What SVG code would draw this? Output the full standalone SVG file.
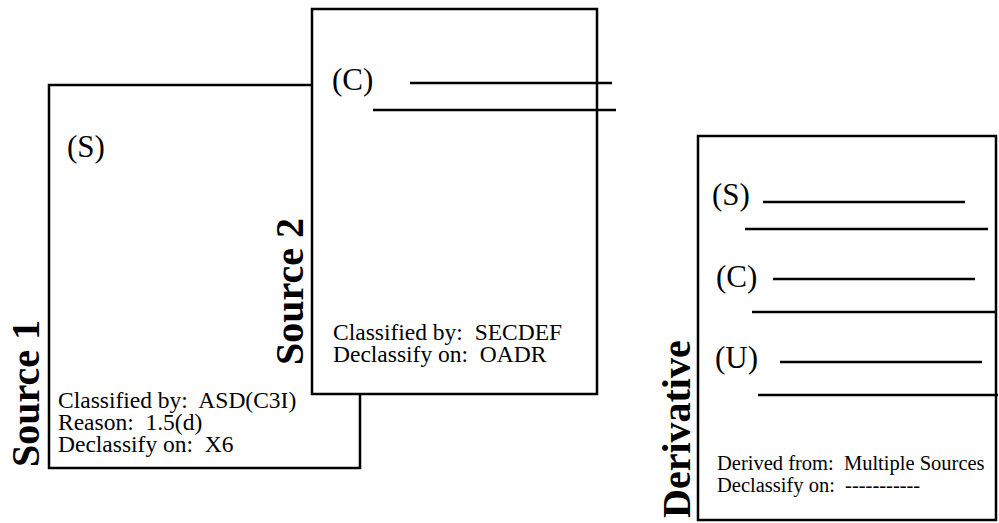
<svg xmlns="http://www.w3.org/2000/svg" width="999" height="523" viewBox="0 0 999 523" xml:space="preserve">
<style>
.box{fill:#fff;stroke:#000;stroke-width:2.5}
.rule{stroke:#000;stroke-width:2.5;fill:none}
.mark{font-family:"Liberation Serif","Times New Roman",serif;font-size:31px;fill:#000}
.body{font-family:"Liberation Serif","Times New Roman",serif;font-size:23.5px;fill:#000;white-space:pre}
.dbody{font-family:"Liberation Serif","Times New Roman",serif;font-size:20.5px;fill:#000;white-space:pre}
.lbl{font-family:"Liberation Serif","Times New Roman",serif;font-size:40px;font-weight:bold;fill:#000}
</style>
<rect width="999" height="523" fill="#fff"/>
<g id="source1">
<rect class="box" x="49" y="85" width="311" height="383"/>
<text class="mark" x="67" y="157">(S)</text>
<text class="body" x="58" y="408">Classified by:  ASD(C3I)</text>
<text class="body" x="58" y="430">Reason:  1.5(d)</text>
<text class="body" x="58" y="452">Declassify on:  X6</text>
<text class="lbl" transform="translate(39,467) rotate(-90)">Source 1</text>
</g>
<g id="source2">
<rect class="box" x="312" y="9" width="285" height="385"/>
<text class="mark" x="332" y="90">(C)</text>
<line class="rule" x1="410" y1="83" x2="612" y2="83"/>
<line class="rule" x1="373" y1="110" x2="616" y2="110"/>
<text class="body" x="333" y="340">Classified by:  SECDEF</text>
<text class="body" x="333" y="362">Declassify on:  OADR</text>
<text class="lbl" transform="translate(303,365) rotate(-90)">Source 2</text>
</g>
<g id="derivative">
<rect class="box" x="698" y="136" width="298" height="384"/>
<text class="mark" x="712" y="205">(S)</text>
<line class="rule" x1="763" y1="202" x2="965" y2="202"/>
<line class="rule" x1="745" y1="229" x2="988" y2="229"/>
<text class="mark" x="716" y="287">(C)</text>
<line class="rule" x1="773" y1="279" x2="975" y2="279"/>
<line class="rule" x1="752" y1="312" x2="995" y2="312"/>
<text class="mark" x="715" y="368">(U)</text>
<line class="rule" x1="780" y1="362" x2="982" y2="362"/>
<line class="rule" x1="758" y1="395" x2="998" y2="395"/>
<text class="dbody" x="717" y="470">Derived from:  Multiple Sources</text>
<text class="dbody" x="717" y="492">Declassify on:  -----------</text>
<text class="lbl" transform="translate(690,518) rotate(-90)">Derivative</text>
</g>
<g id="connectors"/>
</svg>
